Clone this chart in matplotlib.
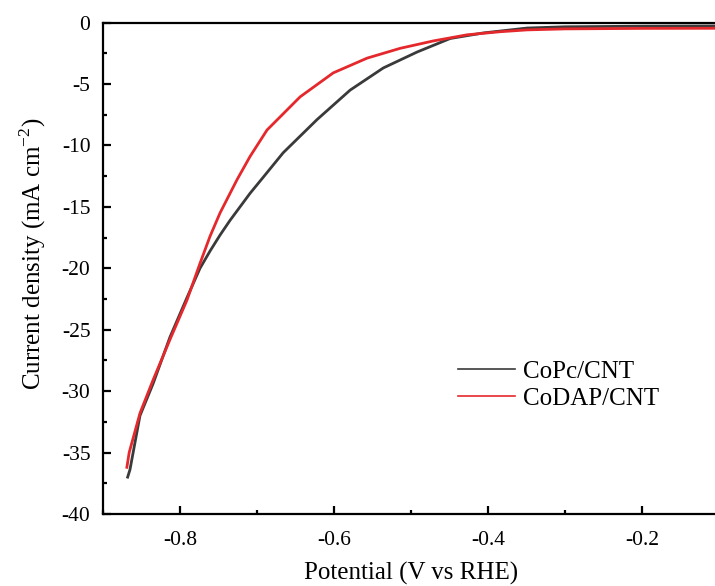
import matplotlib
matplotlib.use("Agg")
import matplotlib.pyplot as plt
from matplotlib.ticker import MultipleLocator, FormatStrFormatter

plt.rcParams['font.family'] = ['Liberation Serif', 'DejaVu Serif']
plt.rcParams['mathtext.fontset'] = 'custom'
plt.rcParams['mathtext.rm'] = 'Liberation Serif'
plt.rcParams['axes.unicode_minus'] = False

# CoPc/CNT
copc_x = [-0.868, -0.865, -0.852, -0.835, -0.813, -0.791, -0.774, -0.761, -0.748,
          -0.735, -0.709, -0.692, -0.666, -0.622, -0.579, -0.536, -0.492, -0.449,
          -0.406, -0.349, -0.300, -0.200, -0.100]
copc_y = [-37.0, -36.4, -32.0, -29.4, -25.6, -22.4, -20.0, -18.6, -17.3,
          -16.1, -13.9, -12.6, -10.6, -7.9, -5.5, -3.7, -2.4, -1.3,
          -0.85, -0.45, -0.35, -0.30, -0.28]

# CoDAP/CNT
codap_x = [-0.869, -0.866, -0.852, -0.835, -0.813, -0.791, -0.774, -0.761, -0.748,
           -0.726, -0.709, -0.687, -0.644, -0.601, -0.557, -0.514, -0.471, -0.427,
           -0.384, -0.349, -0.300, -0.200, -0.100]
codap_y = [-36.2, -35.0, -31.8, -29.1, -25.8, -22.6, -19.6, -17.4, -15.5,
           -12.8, -10.9, -8.75, -6.05, -4.1, -2.9, -2.1, -1.5, -1.0,
           -0.75, -0.6, -0.52, -0.48, -0.47]

labels = ['CoPc/CNT', 'CoDAP/CNT']
colors = ['#3a3a3a', '#e5282c']

fig = plt.figure(figsize=(7.15, 5.86), dpi=100)
ax = fig.add_axes([103/715, 1 - 514/586, 616/715, 491.5/586])

ax.plot(copc_x, copc_y, color=colors[0], lw=2.0, label=labels[0])
ax.plot(codap_x, codap_y, color=colors[1], lw=2.0, label=labels[1])

ax.set_xlim(-0.9, -0.1)
ax.set_ylim(-40, 0)
ax.xaxis.set_major_locator(MultipleLocator(0.2))
ax.xaxis.set_minor_locator(MultipleLocator(0.1))
ax.yaxis.set_major_locator(MultipleLocator(5))
ax.yaxis.set_minor_locator(MultipleLocator(2.5))
ax.xaxis.set_major_formatter(FormatStrFormatter('%.1f'))
ax.yaxis.set_major_formatter(FormatStrFormatter('%d'))

for s in ax.spines.values():
    s.set_linewidth(1.6)
ax.spines['right'].set_visible(False)

ax.tick_params(which='both', direction='in', top=False, right=False, width=1.6)
ax.tick_params(which='major', length=6, labelsize=15.5)
ax.tick_params(axis='x', which='major', pad=12)
ax.tick_params(axis='y', which='major', pad=9)
ax.tick_params(which='minor', length=3)

ax.set_xlabel('Potential (V vs RHE)', fontsize=18, labelpad=9)
ax.set_ylabel('Current density (mA cm$^{-2}$)', fontsize=18)
ax.yaxis.set_label_coords(-0.09, 0.53)

leg = ax.legend(loc='center left', bbox_to_anchor=(0.576, 0.262), frameon=False,
                fontsize=18, handlelength=2.3, handletextpad=0.3, labelspacing=0.2,
                borderpad=0, borderaxespad=0)
for l in leg.get_lines():
    l.set_linewidth(1.2)

fig.savefig('out.png', dpi=100)
